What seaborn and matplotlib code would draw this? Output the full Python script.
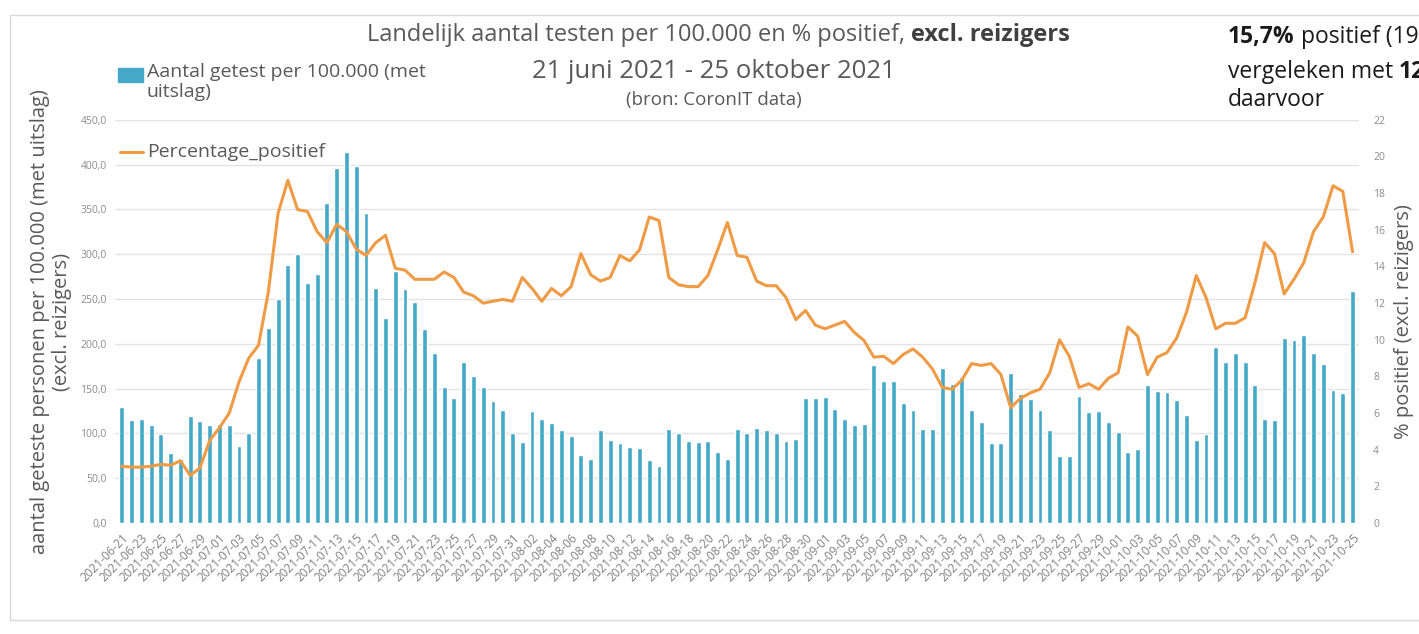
import numpy as np
import pandas as pd
import matplotlib.pyplot as plt
import seaborn as sns
from matplotlib.patches import Rectangle
from matplotlib.lines import Line2D

# Data
dates = pd.date_range("2021-06-21", "2021-10-25", freq="D").strftime("%Y-%m-%d").tolist()

getest = [129, 115, 116, 109, 99, 78, 71, 120, 114, 109, 111, 109, 86, 101, 184, 218,
          250, 288, 300, 268, 278, 357, 396, 414, 399, 346, 262, 229, 281, 261, 247, 217,
          190, 152, 139, 180, 164, 152, 136, 126, 100, 90, 125, 116, 112, 104, 97, 76,
          72, 104, 93, 89, 85, 84, 70, 64, 105, 100, 92, 90, 92, 79, 72, 105, 100,
          106, 104, 101, 92, 94, 139, 139, 141, 127, 116, 109, 110, 176, 159, 159, 134,
          126, 105, 105, 173, 155, 163, 126, 113, 89, 89, 168, 144, 138, 126, 104, 75, 75,
          142, 124, 125, 113, 102, 79, 83, 154, 147, 146, 137, 121, 93, 99, 196, 180,
          190, 180, 154, 116, 115, 207, 204, 210, 190, 178, 148, 145, 259]

positief = [3.1, 3.05, 3.05, 3.1, 3.2, 3.15, 3.4, 2.6, 3.0, 4.5, 5.2, 6.0, 7.7, 9.0, 9.7, 12.6,
            16.9, 18.7, 17.1, 17.0, 15.9, 15.3, 16.3, 15.9, 14.95, 14.6, 15.3, 15.7, 13.9, 13.8, 13.3, 13.3,
            13.3, 13.7, 13.4, 12.6, 12.4, 12.0, 12.1, 12.2, 12.1, 13.4, 12.8, 12.1, 12.8, 12.4, 12.9, 14.7,
            13.55, 13.2, 13.4, 14.6, 14.3, 14.9, 16.7, 16.5, 13.4, 13.0, 12.9, 12.9, 13.5, 14.9, 16.4, 14.6, 14.5,
            13.2, 12.95, 12.95, 12.3, 11.1, 11.6, 10.8, 10.6, 10.8, 11.0, 10.4, 9.95, 9.05, 9.1, 8.7, 9.2,
            9.5, 9.05, 8.4, 7.4, 7.3, 7.8, 8.7, 8.6, 8.7, 8.1, 6.3, 6.8, 7.1, 7.3, 8.2, 10.0, 9.1,
            7.4, 7.6, 7.3, 7.9, 8.2, 10.7, 10.2, 8.1, 9.05, 9.3, 10.1, 11.5, 13.5, 12.3, 10.6, 10.9,
            10.9, 11.2, 13.1, 15.3, 14.7, 12.5, 13.3, 14.2, 15.9, 16.7, 18.4, 18.1, 14.8]

left_ticks = [0, 50, 100, 150, 200, 250, 300, 350, 400, 450]
right_ticks = [0, 2, 4, 6, 8, 10, 12, 14, 16, 18, 20, 22]

BLUE = "#45A8C8"
ORANGE = "#EF9B45"
GREY = "#595959"

sns.set_style("white")
plt.rcParams['font.family'] = ['Open Sans', 'DejaVu Sans']

fig = plt.figure(figsize=(14.19, 6.34), dpi=100)

# light frame around the chart
fig.patches.append(Rectangle((10 / 1419, 0.022), 1.2, 0.954, transform=fig.transFigure,
                             fill=False, edgecolor="#d9d9d9", linewidth=1))

ax = fig.add_axes([0.081, 0.175, 0.877, 0.636])
sns.barplot(x=dates, y=getest, color=BLUE, saturation=1, width=0.5, ax=ax)
ax.set_ylim(0, 450)
ax.set_yticks(left_ticks)
ax.set_yticklabels([f"{v:.1f}".replace(".", ",") for v in left_ticks], fontsize=7.5, color="#8c8c8c")
ax.yaxis.grid(True, color="#e3e3e3", linewidth=1)
ax.set_axisbelow(True)
for s in ax.spines.values():
    s.set_visible(False)

ax.set_xticks(range(0, len(dates), 2))
ax.set_xticklabels(dates[::2], rotation=45, ha="right", rotation_mode="anchor",
                   fontsize=8.5, color="#7f7f7f")
ax.tick_params(axis="x", length=4, color="#d9d9d9", pad=2)
ax.tick_params(axis="y", length=0, pad=6)
ax.set_xlabel("")
ax.set_ylabel("aantal geteste personen per 100.000 (met uitslag)\n(excl. reizigers)",
              fontsize=14.5, color=GREY, labelpad=6, linespacing=1.15)

ax2 = ax.twinx()
sns.lineplot(x=np.arange(len(dates)), y=positief, color=ORANGE, linewidth=2.2, ax=ax2)
ax2.set_ylim(0, 22)
ax2.set_yticks(right_ticks)
ax2.set_yticklabels([str(v) for v in right_ticks], fontsize=7.5, color="#8c8c8c")
ax2.tick_params(axis="y", length=0, pad=10)
ax2.set_ylabel("% positief (excl. reizigers)", fontsize=14.5, color=GREY, labelpad=6)
for s in ax2.spines.values():
    s.set_visible(False)
ax.set_xlim(-0.7, len(dates) - 0.3)


def fy(px):
    return 1 - px / 634


# title pieces
t1 = fig.text(367 / 1419, fy(35), "Landelijk aantal testen per 100.000 en % positief, ",
              fontsize=17, color=GREY, va="center", ha="left")
ax.annotate("excl. reizigers", xy=(1, 0), xycoords=t1, va="bottom", ha="left",
            fontsize=17, color="#404040", fontweight="bold", annotation_clip=False)
fig.text(0.503, fy(72), "21 juni 2021 - 25 oktober 2021", fontsize=18.5, color=GREY,
         va="center", ha="center")
fig.text(0.503, fy(100), "(bron: CoronIT data)", fontsize=13.5, color=GREY,
         va="center", ha="center")

# legend (drawn by hand, positions as in the reference)
fig.patches.append(Rectangle((118 / 1419, fy(82)), 25 / 1419, 14 / 634,
                             transform=fig.transFigure, color=BLUE))
fig.text(147 / 1419, fy(63), "Aantal getest per 100.000 (met\nuitslag)", fontsize=14,
         color=GREY, va="top", ha="left", linespacing=1.15)
fig.lines.append(Line2D([120 / 1419, 143 / 1419], [fy(152), fy(152)], transform=fig.transFigure,
                        color=ORANGE, linewidth=2.2))
fig.text(147 / 1419, fy(152), "Percentage_positief", fontsize=14, color=GREY,
         va="center", ha="left")

# annotation at the right (clipped by the figure edge as in the reference)
r1 = fig.text(1228 / 1419, fy(37), "15,7%", fontsize=16.5, color="#1a1a1a",
              fontweight="bold", va="center", ha="left")
ax.annotate(" positief (19", xy=(1, 0), xycoords=r1, va="bottom", ha="left",
            fontsize=16.5, color="#1a1a1a", annotation_clip=False)
r2 = fig.text(1228 / 1419, fy(72), "vergeleken met ", fontsize=16.5, color="#1a1a1a",
              va="center", ha="left")
ax.annotate("12", xy=(1, 0), xycoords=r2, va="bottom", ha="left",
            fontsize=16.5, color="#1a1a1a", fontweight="bold", annotation_clip=False)
fig.text(1228 / 1419, fy(100), "daarvoor", fontsize=16.5, color="#1a1a1a",
         va="center", ha="left")

fig.savefig("out.png", dpi=100)
